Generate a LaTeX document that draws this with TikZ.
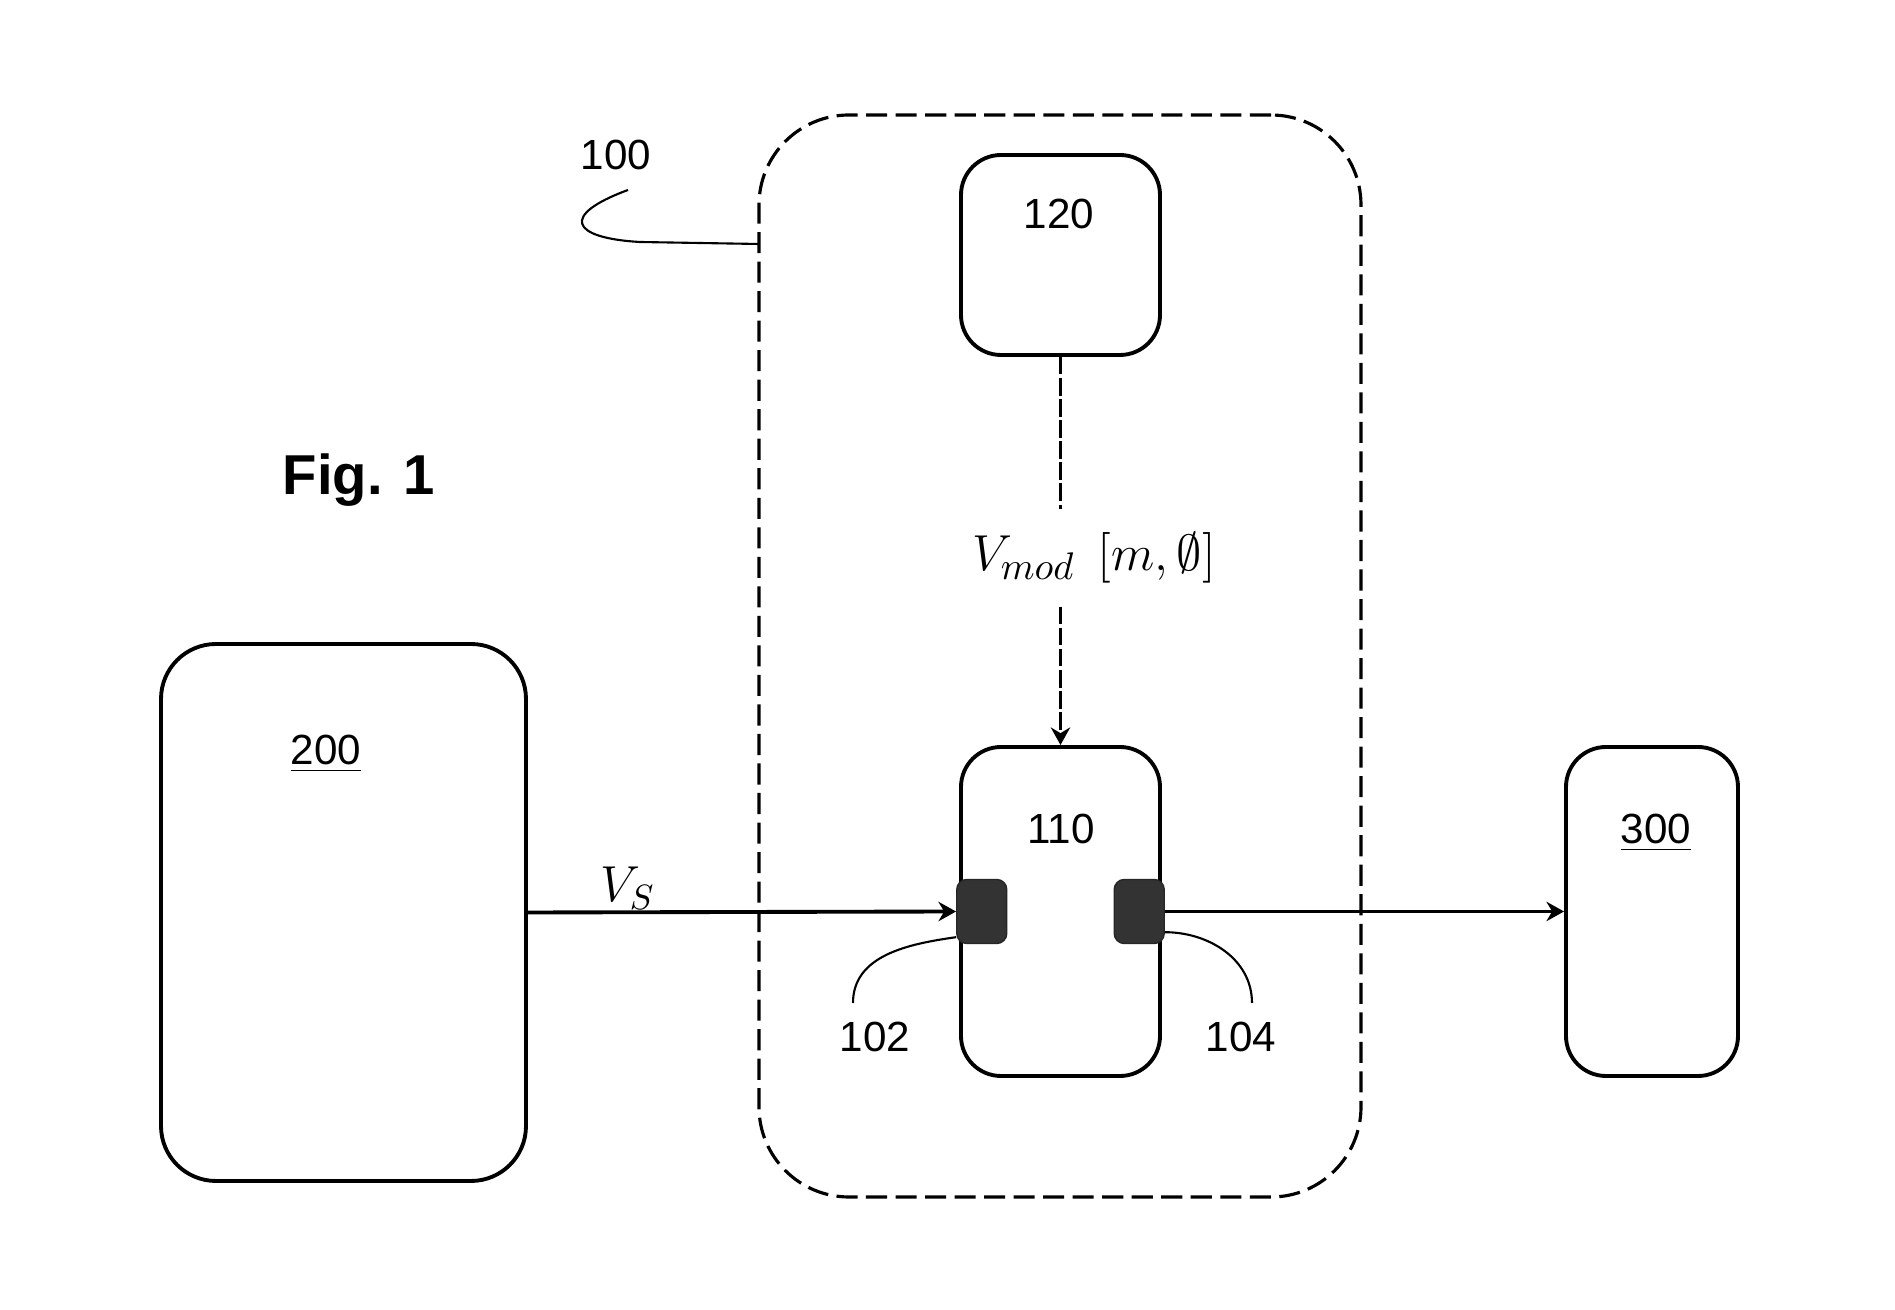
\documentclass[tikz,border=0pt]{standalone}
\usepackage{fontspec}
\setmainfont{Liberation Sans}
\usepackage{amssymb}
\usetikzlibrary{arrows.meta,positioning,calc}

\begin{document}
\begin{tikzpicture}[>={Stealth[length=5pt,width=5.5pt]},x=1.000cm,y=1.000cm,
 font=\fontsize{12}{14}\selectfont,
 box/.style={draw,line width=1.1pt,rounded corners=0.4cm,inner sep=0pt},
 group/.style={draw,line width=0.9pt,dash pattern=on 6pt off 2.4pt,rounded corners=0.9cm,inner sep=0pt},
 port/.style={draw=black!85,fill=black!80,rounded corners=0.1cm,minimum width=0.5cm,minimum height=0.64cm,inner sep=0pt},
 sig/.style={line width=1.1pt},
 leader/.style={line width=0.6pt},
 lab/.style={inner sep=1pt}]
\useasboundingbox (0,0) rectangle (18.95,13.10);
% blocks
\node[group,minimum width=6.02cm,minimum height=10.82cm] (b100) at (10.600,6.540) {};
\node[box,minimum width=1.99cm,minimum height=2.00cm] (b120) at (10.605,10.550) {};
\node[box,minimum width=1.99cm,minimum height=3.29cm] (b110) at (10.605,3.985) {};
\node[box,rounded corners=0.55cm,minimum width=3.65cm,minimum height=5.37cm] (b200) at (3.435,3.975) {};
\node[box,minimum width=1.72cm,minimum height=3.29cm] (b300) at (16.520,3.985) {};
\node[port,anchor=west] (p102) at ($(b110.west)+(-0.03,0)$) {};
\node[port,anchor=east] (p104) at ($(b110.east)+(0.03,0)$) {};
% labels
\node[lab] (t200) at (3.260,5.560) {\underline{200}};
\node[lab] (t300) at (16.560,4.770) {\underline{300}};
\node[lab] (t110) at (10.610,4.810) {110};
\node[lab] (t120) at (10.590,10.960) {120};
\node[lab] (t100) at (6.160,11.550) {100};
\node[lab] (t102) at (8.750,2.730) {102};
\node[lab] (t104) at (12.410,2.730) {104};
\node[lab,font=\bfseries\fontsize{16}{19}\selectfont] (fig) at (3.590,8.300) {Fig. 1};
\node[lab] (vs) at (6.280,4.220) {\fontsize{14}{16}\selectfont$V_S$};
\node[lab,minimum height=0.96cm] (vmod) at (10.940,7.520) {\fontsize{15}{18}\selectfont$V_{mod}\;\,[m,\emptyset]$};
% signals
\draw[sig,->] (b200.east) -- (p102.west);
\draw[sig,->] (p104.east) -- (b300.west);
\draw[sig,dash pattern=on 5pt off 1pt] (b120.south) -- (b120.south |- vmod.north);
\draw[sig,dash pattern=on 5pt off 1pt,->] (b110.north |- vmod.south) -- (b110.north);
% leaders
\coordinate (l100) at (6.280,11.200);
\coordinate (e100) at (7.590,10.660);
\coordinate (l102) at (8.530,3.070);
\coordinate (l104) at (12.520,3.070);
\draw[leader] (l100) .. controls (5.600,10.950) and (5.700,10.720) .. (6.400,10.680) -- (e100);
\draw[leader] ($(p102.south west)+(0,0.07)$) to[out=188,in=90] (l102);
\draw[leader] ($(p104.south east)+(0,0.12)$) to[out=0,in=90] (l104);
\end{tikzpicture}
\end{document}
